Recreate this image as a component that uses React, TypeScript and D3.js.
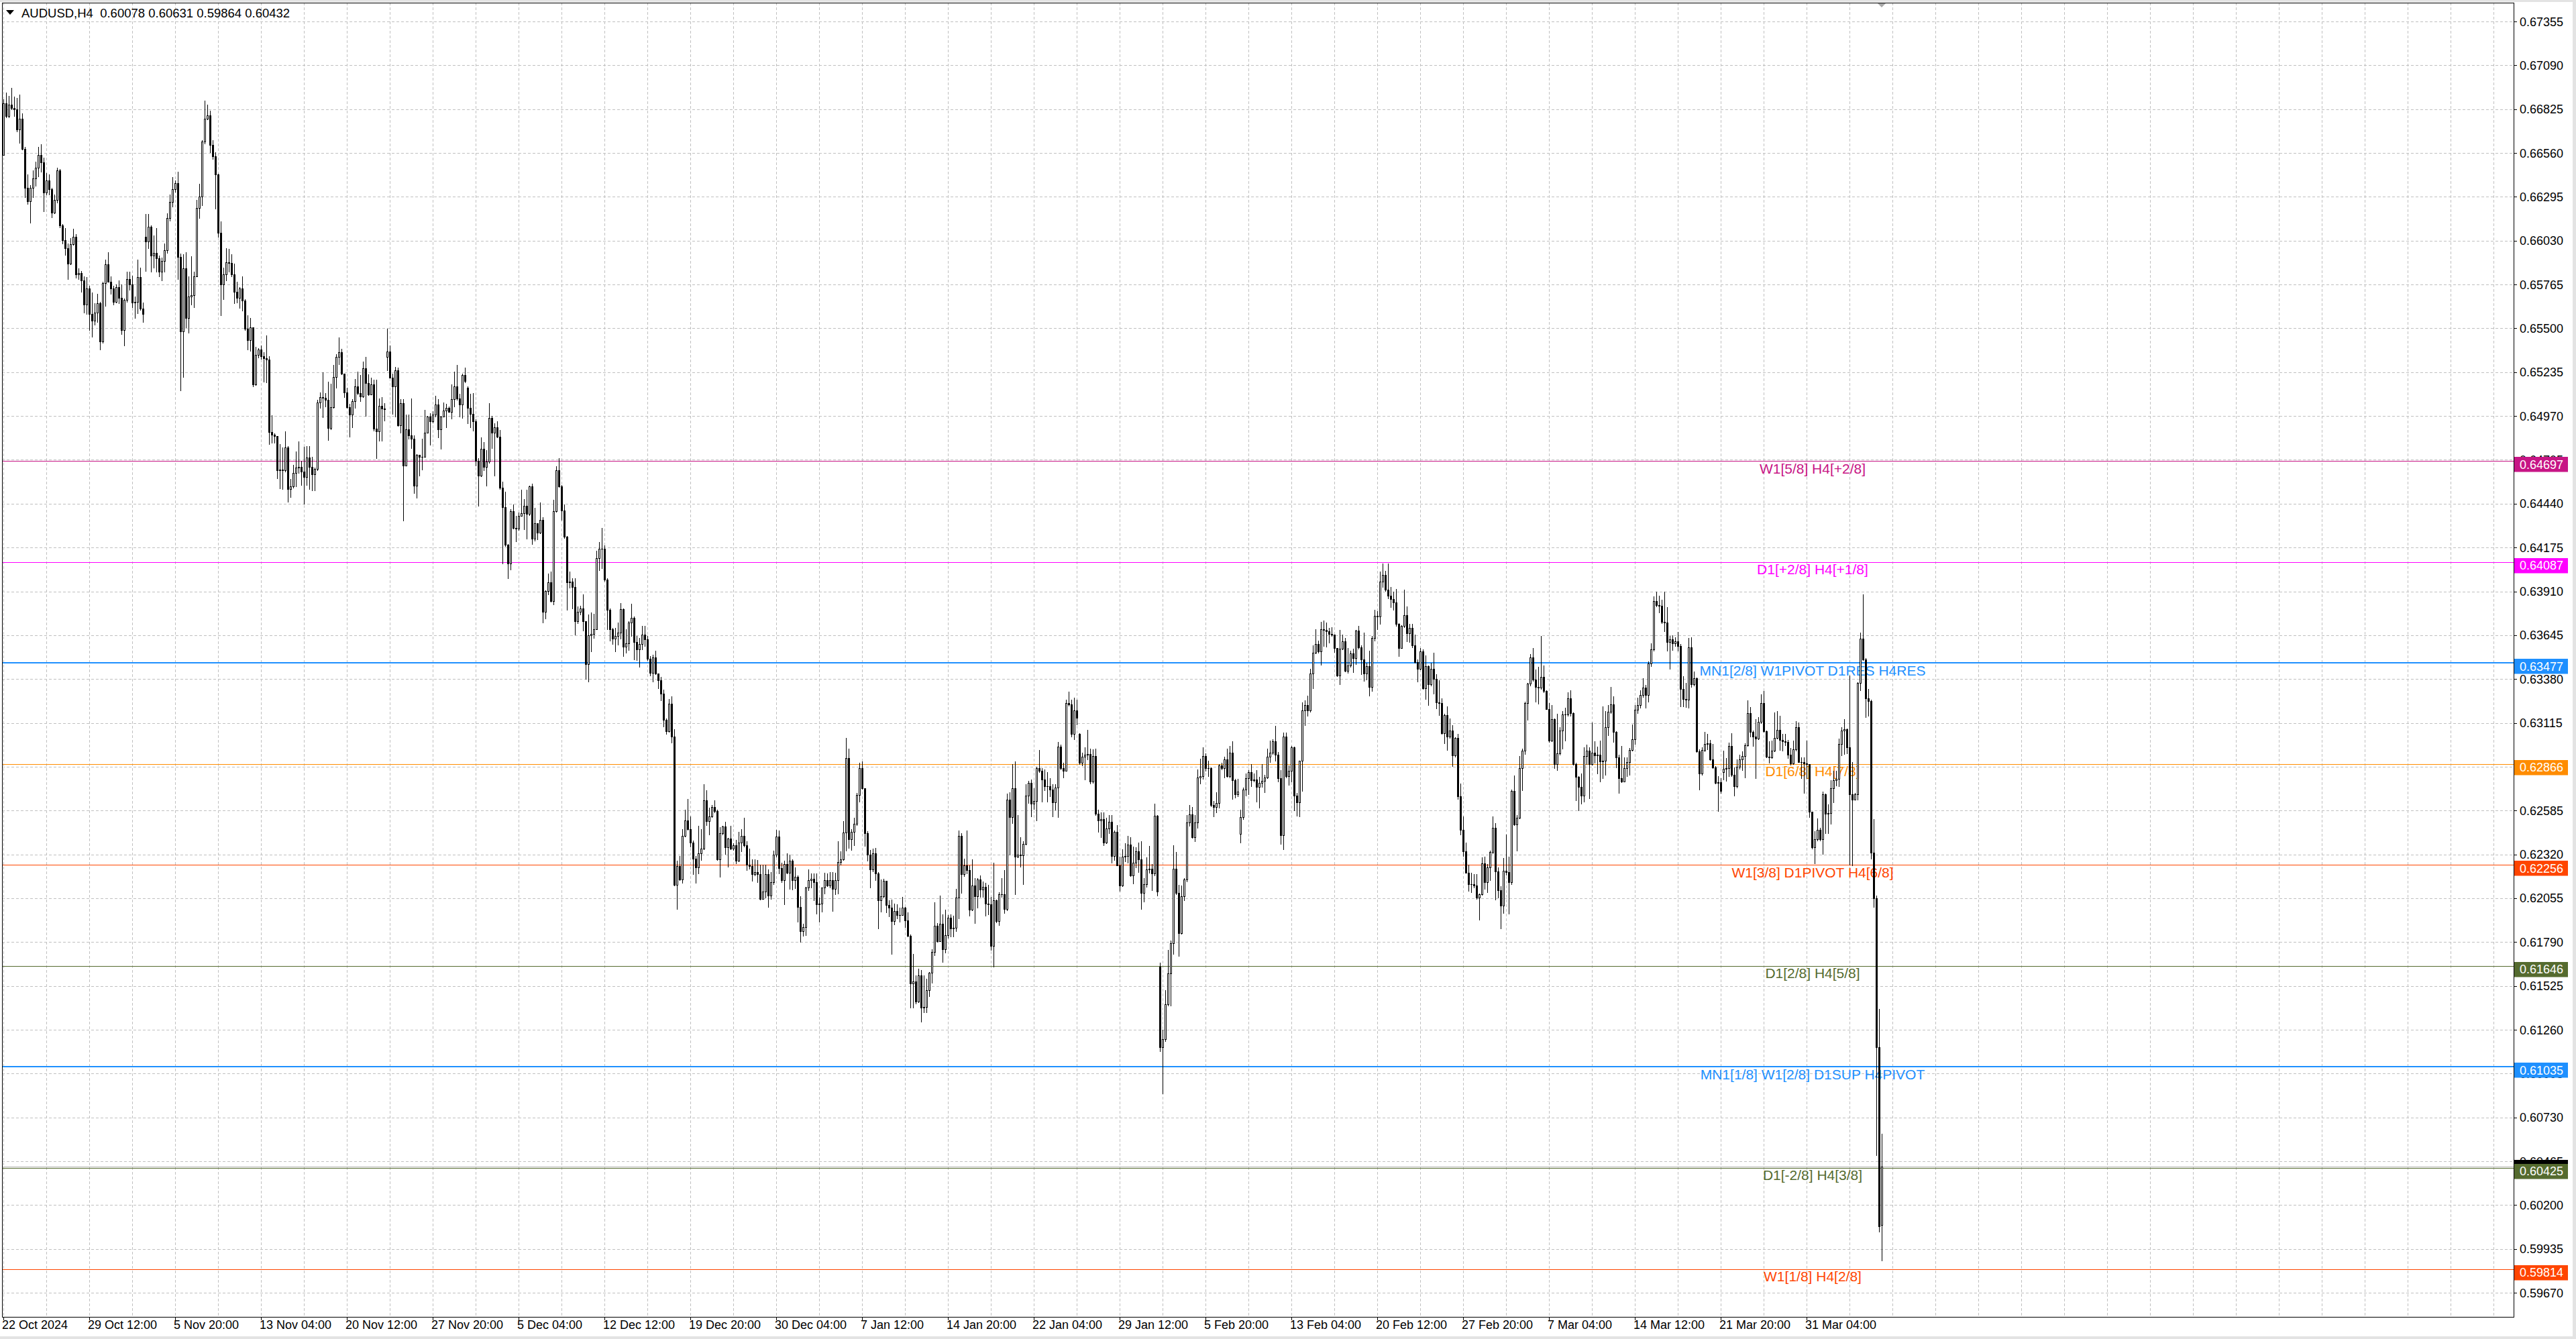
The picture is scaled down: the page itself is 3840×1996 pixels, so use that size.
import React from 'react';
import * as d3 from 'd3';

// AUDUSD H4 candles, prices in points (1e-5)
const symbolName = 'AUDUSD,H4';

const timeLabels = [
  '22 Oct 2024', '29 Oct 12:00', '5 Nov 20:00', '13 Nov 04:00', '20 Nov 12:00', '27 Nov 20:00',
  '5 Dec 04:00', '12 Dec 12:00', '19 Dec 20:00', '30 Dec 04:00', '7 Jan 12:00', '14 Jan 20:00',
  '22 Jan 04:00', '29 Jan 12:00', '5 Feb 20:00', '13 Feb 04:00', '20 Feb 12:00', '27 Feb 20:00',
  '7 Mar 04:00', '14 Mar 12:00', '21 Mar 20:00', '31 Mar 04:00',
];

const priceTicks = [
  '0.67355', '0.67090', '0.66825', '0.66560', '0.66295', '0.66030', '0.65765', '0.65500', '0.65235', '0.64970',
  '0.64705', '0.64440', '0.64175', '0.63910', '0.63645', '0.63380', '0.63115', '0.62850', '0.62585', '0.62320',
  '0.62055', '0.61790', '0.61525', '0.61260', '0.60995', '0.60730', '0.60465', '0.60200', '0.59935', '0.59670',
];

const levelPrices = [0.64697, 0.64087, 0.63477, 0.62866, 0.62256, 0.61646, 0.61035, 0.60425, 0.59814];
const levelTags = [
  'W1[5/8] H4[+2/8]', 'D1[+2/8] H4[+1/8]', 'MN1[2/8] W1PIVOT D1RES H4RES', 'D1[6/8] H4[7/8]',
  'W1[3/8] D1PIVOT H4[6/8]', 'D1[2/8] H4[5/8]', 'MN1[1/8] W1[2/8] D1SUP H4PIVOT', 'D1[-2/8] H4[3/8]',
  'W1[1/8] H4[2/8]',
];

const closes = [
  66862,66785,66851,66830,66825,66701,66766,66584,66349,66269,
  66349,66408,66472,66549,66504,66320,66392,66341,66201,66277,
  66453,66124,66031,65983,65892,66009,66055,65828,65836,65788,
  65643,65740,65587,65547,65595,65651,65419,65772,65887,65783,
  65740,65660,65748,65684,65491,65671,65796,65764,65655,65660,
  65809,65619,65587,66023,66116,65940,65956,65924,65844,65908,
  65972,66168,66264,66341,66376,65932,65483,65863,65563,65692,
  65700,65815,66229,66296,66629,66766,66786,66608,66541,66429,
  66076,65764,65828,65900,65895,65828,65719,65684,65743,65668,
  65499,65430,65507,65163,65339,65371,65331,65321,65312,64874,
  64858,64847,64642,64645,64642,64778,64530,64546,64626,64658,
  64661,64634,64602,64719,64661,64618,64650,65050,65084,65080,
  65066,64896,65024,65207,65326,65354,65228,65112,65024,64979,
  65060,65150,65108,65088,65259,65168,65102,65161,64893,64879,
  65033,65014,65010,65359,65203,65150,65248,64912,65046,64672,
  64891,64851,64833,64549,64735,64725,64725,64870,64965,64938,
  64977,65038,64889,64968,65003,65021,64996,65073,65147,65077,
  65038,65217,65182,65021,64982,64940,64700,64609,64773,64661,
  64693,64958,64868,64903,64843,64535,64421,64190,64079,64393,
  64295,64288,64368,64382,64428,64379,64544,64228,64320,64264,
  64344,63785,63911,63963,63851,64396,64644,64544,64400,64239,
  63963,63970,63935,63730,63785,63806,63730,63471,63646,63653,
  63683,64111,64169,64167,63981,63799,63683,63625,63639,63660,
  63804,63576,63597,63720,63751,63604,63560,63590,63650,63620,
  63501,63418,63511,63412,63371,63290,63132,63064,63231,63032,
  62135,62250,62169,62430,62527,62471,62390,62294,62243,62327,
  62356,62648,62523,62551,62607,62582,62290,62449,62489,62365,
  62415,62353,62376,62280,62390,62430,62376,62258,62250,62199,
  62213,62199,62051,62095,62199,62070,62154,62317,62427,62238,
  62165,62262,62209,62283,62165,62184,62003,61855,61882,62118,
  62165,62174,62154,62017,62022,62118,62165,62132,62165,62110,
  62165,62272,62291,62454,62902,62412,62457,62504,62678,62840,
  62719,62449,62317,62228,62327,62206,62041,62066,62159,62014,
  61997,61918,61977,61952,61955,61997,61923,61826,61540,61550,
  61432,61587,61392,61398,61498,61604,61731,61889,61796,61899,
  61746,61830,61938,61874,61878,62058,62431,62199,62255,62226,
  61985,62130,62065,62170,62107,62123,62022,62017,61766,62043,
  61918,62078,62081,61990,62652,62546,62720,62306,62319,62316,
  62383,62675,62752,62627,62644,62840,62824,62771,62731,62732,
  62712,62636,62725,62973,62840,62824,63236,63225,63048,63189,
  63145,62872,62909,62923,62927,62760,62915,62567,62524,62535,
  62391,62476,62519,62311,62455,62255,62130,62306,62311,62378,
  62194,62268,62338,62290,62086,62139,62231,62234,62203,62555,
  62094,61156,61204,61413,61600,61782,62235,62086,61846,62065,
  62167,62514,62562,62423,62514,62784,62792,62915,62840,62840,
  62620,62607,62631,62856,62840,62893,62792,62936,62768,62684,
  62699,62547,62712,62781,62819,62768,62773,62728,62752,62765,
  62784,62909,62936,63005,62922,62780,62438,63032,62792,62825,
  62968,62675,62633,62885,63192,63222,63192,63413,63538,63590,
  63548,63683,63677,63668,63653,63647,63568,63402,63563,63608,
  63428,63462,63533,63508,63672,63572,63500,63413,63458,63332,
  63628,63762,63758,63968,64010,63920,63882,63863,63842,63713,
  63568,63702,63767,63658,63688,63582,63482,63443,63548,63323,
  63458,63350,63440,63380,63238,63233,63053,63162,63032,63068,
  62918,63023,62672,62468,62338,62210,62138,62138,62132,62057,
  62078,62267,62153,62240,62333,62480,62218,62102,62012,62222,
  62213,62153,62702,62502,62543,62843,62948,63233,63353,63512,
  63377,63332,63328,63392,63308,63200,63008,63137,62867,62930,
  63068,63167,63167,63263,63173,62867,62788,62728,62675,62915,
  62948,62867,62933,62918,62924,62883,62887,63087,63184,63226,
  63059,62905,62782,62761,62841,62877,62952,63017,63194,63222,
  63282,63330,63282,63473,63561,63850,63827,63822,63725,63720,
  63603,63620,63595,63606,63578,63320,63260,63257,63571,63348,
  63383,62943,62810,62952,62989,62992,62894,62845,62751,62757,
  62705,62838,62841,62975,62803,62733,62849,62894,62915,62980,
  63176,63059,63033,63022,63120,63236,63064,62911,62908,62947,
  63026,63072,63012,63003,62998,62922,62869,62957,63087,62880,
  62877,62869,62866,62580,62363,62412,62468,62412,62684,62566,
  62570,62719,62768,62775,62989,63068,63075,62966,62684,62650,
  62682,63357,63623,63497,63264,63246,62332,62055,61156,60072,
  60432,
];

const highs = [
  66883,66926,66905,66953,66902,66894,66915,66798,66597,66432,
  66365,66453,66509,66597,66613,66530,66437,66429,66349,66309,
  66469,66461,66132,66108,66012,66044,66100,66071,65863,65847,
  65812,65809,65756,65716,65651,65708,65660,65780,65916,65959,
  65812,65756,65767,65788,65764,65680,65841,65844,65820,65692,
  65916,65868,65655,66192,66192,66124,66060,66108,65940,65927,
  66012,66197,66309,66413,66392,66445,65953,65948,65959,65812,
  65937,65844,66277,66373,66637,66878,66851,66814,66637,66565,
  66434,66148,65868,65985,65980,65948,65892,65780,65751,65812,
  65676,65579,65563,65507,65387,65379,65395,65355,65459,65331,
  64975,64866,64850,64799,64778,64879,64790,64590,64674,64754,
  64815,64698,64786,64789,64789,64722,64658,65066,65112,65234,
  65108,65178,65164,65280,65342,65443,65377,65228,65140,65042,
  65070,65192,65238,65217,65298,65326,65220,65203,65189,65189,
  65077,65084,65049,65499,65398,65228,65266,65261,65070,65070,
  64979,64979,65077,64851,64739,64735,64833,65007,64972,64986,
  65000,65094,65070,64972,65052,65042,65028,65161,65238,65280,
  65105,65228,65262,65147,65105,65108,64952,64714,64840,64812,
  64763,65046,64972,64924,64940,64884,64574,64512,64197,64407,
  64435,64365,64386,64526,64466,64526,64549,64560,64414,64323,
  64446,64358,63918,64019,64030,64463,64665,64714,64554,64435,
  64246,64030,63991,63991,63820,63823,63890,63723,63771,63781,
  63776,64155,64209,64292,64186,63988,63806,63688,63688,63723,
  63841,63806,63681,63730,63834,63760,63640,63630,63700,63700,
  63640,63518,63526,63551,63415,63393,63315,63142,63260,63275,
  63076,62280,62309,62471,62592,62656,62548,62405,62309,62494,
  62474,62744,62707,62604,62619,62648,62589,62483,62494,62516,
  62420,62494,62386,62409,62457,62471,62542,62398,62353,62291,
  62291,62287,62258,62258,62258,62228,62213,62342,62468,62464,
  62268,62283,62327,62317,62291,62243,62191,62066,61899,62125,
  62228,62206,62206,62206,62059,62120,62209,62206,62213,62213,
  62209,62398,62339,62523,63024,62958,62471,62542,62690,62872,
  62881,62719,62460,62346,62356,62361,62213,62169,62174,62154,
  62044,62047,62022,62017,61999,62061,62003,61970,61837,61719,
  61587,61628,61619,61587,61569,61609,61746,62029,61904,62073,
  61958,61985,61955,61958,61950,62110,62463,62447,62295,62463,
  62255,62290,62175,62175,62194,62158,62150,62134,62062,62271,
  62046,62091,62178,62226,62688,62696,62864,62883,62559,62423,
  62399,62744,62765,62771,62720,62848,62952,62840,62832,62816,
  62781,62744,62744,63000,62984,62872,63257,63305,63257,63268,
  63257,63053,62936,62968,63072,62960,62957,62960,62591,62575,
  62572,62543,62559,62559,62463,62495,62306,62351,62386,62431,
  62423,62367,62364,62391,62399,62178,62303,62370,62263,62627,
  62559,61665,61261,61501,61742,61798,62375,62335,62134,62130,
  62178,62559,62620,62607,62556,62835,62899,62968,62931,62888,
  62845,62643,62696,62867,62872,62912,62960,62976,63005,62776,
  62776,62591,62723,62808,62829,62867,62808,62829,62787,62864,
  62800,62960,63008,63016,63098,62938,62828,63058,63058,62858,
  62975,62970,62693,62888,63238,63252,63278,63443,63582,63680,
  63612,63725,63732,63722,63688,63695,63650,63568,63677,63647,
  63628,63568,63552,63563,63677,63702,63582,63660,63478,63552,
  63642,63800,63792,64028,64078,64032,64078,63935,63908,63923,
  63718,63707,63920,63818,63713,63713,63650,63500,63568,63560,
  63522,63462,63478,63538,63410,63372,63263,63170,63215,63140,
  63102,63028,63050,62750,62548,62390,62258,62210,62202,62202,
  62082,62303,62308,62262,62342,62548,62510,62240,62128,62300,
  62442,62308,62712,62795,62558,62915,62960,63245,63358,63530,
  63568,63437,63455,63642,63462,63312,63233,63222,63143,63170,
  63088,63188,63208,63298,63312,63178,62873,62792,62810,62968,
  62983,62968,63118,63002,62971,63008,63215,63187,63222,63334,
  63274,63064,62922,62975,62908,62908,62964,63106,63222,63268,
  63313,63383,63343,63487,63595,63878,63910,63885,63860,63910,
  63815,63641,63645,63634,63665,63592,63399,63357,63627,63634,
  63424,63390,62957,62966,63061,63047,63012,62989,62852,62793,
  62779,62947,62901,62994,63054,62845,62894,62922,62943,62992,
  63250,63212,63068,63138,63148,63288,63306,63068,63003,63006,
  63180,63187,63159,63047,63050,63012,62964,63006,63124,63117,
  62908,62908,63006,62831,62580,62461,62538,62482,62698,62687,
  62621,62768,62824,62824,63019,63087,63138,63082,63403,62880,
  62690,63362,63662,63892,63508,63320,63257,62533,62072,61386,
  60631,
];

const lows = [
  66546,66774,66777,66822,66782,66690,66621,66581,66293,66253,
  66140,66293,66360,66418,66445,66209,66309,66309,66172,66197,
  66261,66112,66012,65945,65796,65887,66004,65804,65799,65719,
  65595,65587,65491,65451,65523,65539,65371,65414,65636,65780,
  65708,65644,65655,65651,65467,65395,65660,65732,65627,65563,
  65591,65611,65539,65847,65983,65844,65868,65844,65812,65788,
  65844,65956,66152,66237,66325,65796,65123,65206,65507,65475,
  65644,65627,65812,66168,66245,66617,66761,66565,66525,66225,
  66052,65579,65676,65788,65844,65812,65651,65655,65623,65607,
  65491,65371,65363,65147,65158,65323,65315,65179,65174,64802,
  64810,64810,64594,64533,64530,64634,64450,64480,64537,64545,
  64626,64553,64440,64553,64530,64521,64521,64642,65021,64963,
  65028,64823,64889,65021,65140,65284,65220,65084,65020,64843,
  64903,65021,65102,65060,65084,64972,65098,65105,64882,64714,
  64819,64819,64944,65245,65200,64982,64968,64910,64870,64337,
  64672,64833,64777,64505,64477,64609,64647,64725,64868,64795,
  64931,64965,64840,64773,64972,64903,64993,64954,65028,65066,
  64968,64958,65172,64924,64903,64882,64672,64428,64605,64644,
  64549,64686,64777,64609,64840,64530,64079,64185,63991,64041,
  64288,64214,64281,64365,64284,64228,64372,64197,64218,64225,
  64260,63723,63744,63890,63848,63832,64390,64539,64340,64232,
  63799,63932,63806,63650,63716,63771,63674,63380,63366,63548,
  63628,63681,64037,64051,63974,63681,63611,63590,63548,63586,
  63625,63520,63538,63555,63642,63499,63496,63452,63560,63580,
  63496,63403,63363,63408,63324,63250,63091,63049,63061,62995,
  62130,61992,62165,62150,62427,62468,62368,62199,62150,62206,
  62287,62350,62498,62442,62545,62575,62287,62184,62442,62324,
  62247,62350,62346,62265,62277,62339,62368,62224,62235,62162,
  62194,62154,62047,62051,62059,62003,62051,62140,62306,62206,
  62154,62017,62206,62110,62106,62115,61914,61790,61826,61830,
  62103,62118,62044,61963,61914,61973,62085,62129,62118,61977,
  62081,62085,62258,62287,62342,62361,62346,62376,62498,62637,
  62715,62371,62280,62120,62218,62165,61874,61973,62059,61970,
  61944,61719,61896,61933,61911,61955,61882,61823,61395,61395,
  61417,61427,61309,61365,61365,61461,61542,61712,61790,61830,
  61668,61727,61815,61823,61822,61857,61934,62086,62190,62203,
  61950,61982,61905,61998,62062,62062,61950,61958,61742,61642,
  61910,61894,62062,61966,61982,62319,62511,62078,62303,62247,
  62142,62380,62631,62551,62595,62527,62816,62639,62707,62639,
  62672,62551,62591,62546,62835,62784,62824,63217,63032,63016,
  63105,62864,62856,62771,62896,62749,62752,62559,62455,62423,
  62375,62386,62447,62268,62287,62252,62098,62126,62279,62268,
  62187,62146,62242,62215,61990,62033,62123,62210,62102,62194,
  62070,61132,60876,61193,61405,61405,61718,62078,61706,61841,
  62043,62158,62492,62418,62399,62479,62748,62776,62824,62792,
  62611,62551,62575,62604,62835,62784,62787,62784,62656,62664,
  62672,62391,62535,62675,62684,62733,62760,62640,62604,62728,
  62696,62781,62877,62928,62885,62762,62382,62352,62783,62742,
  62762,62588,62555,62548,62702,63102,63158,63182,63323,63533,
  63538,63467,63578,63575,63598,63642,63545,63398,63347,63560,
  63425,63418,63455,63422,63470,63563,63410,63368,63377,63278,
  63308,63612,63683,63713,63935,63912,63868,63815,63797,63702,
  63518,63608,63695,63608,63605,63572,63478,63365,63437,63320,
  63260,63222,63342,63293,63203,63162,63050,62993,62952,63023,
  62855,62912,62657,62442,62312,62207,62098,62093,62120,62052,
  61925,62075,62112,62090,62165,62327,62045,62060,61872,61967,
  62195,61962,62142,62498,62342,62537,62708,62927,63132,63342,
  63368,63245,63230,63320,63298,63197,62998,63005,62840,62828,
  62922,62960,63008,63158,63158,62860,62645,62588,62627,62638,
  62867,62660,62862,62873,62810,62761,62779,62803,63040,63173,
  63000,62845,62691,62757,62768,62793,62799,62947,62989,63173,
  63208,63271,63208,63243,63459,63553,63818,63781,63718,63669,
  63553,63441,63557,63581,63553,63215,63215,63212,63208,63334,
  63341,62938,62712,62803,62943,62957,62891,62840,62747,62584,
  62691,62771,62765,62793,62793,62677,62723,62838,62831,62785,
  62975,63033,62975,62779,63017,63114,63061,62908,62873,62901,
  62943,63019,62952,62947,62980,62901,62863,62866,62947,62877,
  62782,62691,62782,62545,62356,62265,62405,62405,62321,62450,
  62450,62506,62635,62737,62733,62919,62925,62929,62258,62252,
  62650,62650,63313,63494,63148,63159,62296,62004,60500,60038,
  59864,
];

// bars whose open is not the previous close (weekend gaps, first bar)
const gapOpens: [number, number][] = [
  [0, 66549], [53, 66052], [143, 65326], [173, 65140], [401, 63048],
  [431, 61642], [461, 62444], [641, 62817], [700, 60078],
];

const FONT = "'Liberation Sans', Arial, sans-serif";
const LEVEL_COLORS = ['#C71585', '#FF00FF', '#1E90FF', '#FF8C00', '#FF4500', '#556B2F', '#1E90FF', '#556B2F', '#FF4500'];
const LEVEL_WIDTHS = [1, 1, 2, 1, 1, 1, 2, 1, 1];
const GRID = '#C0C0C0';

const half = (v: number) => Math.round(v) + 0.5;

export default function App() {
  React.useEffect(() => {
    document.body.style.margin = '0';
    document.body.style.overflow = 'hidden';
  }, []);

  const width = 3840;
  const height = 1996;
  const frame = { left: 3, top: 4, right: 3747, bottom: 1963 };

  const bars = React.useMemo(() => {
    const gaps = new Map(gapOpens);
    return closes.map((c, i) => {
      const open = gaps.get(i) ?? closes[i - 1];
      const hi = Math.max(highs[i], open, c);
      const lo = Math.min(lows[i], open, c);
      return { open: open / 1e5, high: hi / 1e5, low: lo / 1e5, close: c / 1e5 };
    });
  }, []);

  const n = bars.length;
  const x = d3.scaleLinear().domain([0, n - 1]).range([5, 5 + 4 * (n - 1)]);
  const tickValues = priceTicks.map(Number);
  const y = d3.scaleLinear()
    .domain([tickValues[tickValues.length - 1], tickValues[0]])
    .range([1927.1, 32]);

  const fmt = d3.format('.5f');
  const last = bars[n - 1];
  const header = `${symbolName}  ${fmt(last.open)} ${fmt(last.high)} ${fmt(last.low)} ${fmt(last.close)}`;

  const vGrid = d3.range(0, 80).map(k => x(k * 16)).filter(v => v > frame.left + 1 && v < frame.right);
  const bidY = y(last.close);

  return (
    <div style={{ position: 'absolute', left: 0, top: 0 }}>
      <svg width={width} height={height} style={{ display: 'block', fontFamily: FONT }}>
        <rect x={0} y={0} width={width} height={height} fill="#fff" />
        {/* window edges */}
        <rect x={0} y={0} width={width} height={3} fill="#E3E3E3" />
        <rect x={width - 5} y={0} width={5} height={height} fill="#E3E3E3" />
        <rect x={0} y={height - 4} width={width} height={4} fill="#E3E3E3" />

        {/* grid */}
        <g stroke={GRID} strokeDasharray="4,3" shapeRendering="crispEdges">
          {vGrid.map((v, i) => (
            <line key={'v' + i} x1={half(v)} x2={half(v)} y1={frame.top} y2={frame.bottom} />
          ))}
          {tickValues.map((t, i) => (
            <line key={'h' + i} x1={frame.left} x2={frame.right} y1={half(y(t))} y2={half(y(t))} />
          ))}
        </g>

        {/* levels */}
        <g shapeRendering="crispEdges">
          {levelPrices.map((p, i) => {
            const ly = LEVEL_WIDTHS[i] === 2 ? Math.round(y(p)) : half(y(p));
            return (
              <line key={i} x1={frame.left} x2={frame.right} y1={ly} y2={ly}
                stroke={LEVEL_COLORS[i]} strokeWidth={LEVEL_WIDTHS[i]} />
            );
          })}
        </g>
        {levelPrices.map((p, i) => (
          <text key={i} x={2702} y={y(p) + 18.5} textAnchor="middle" fontSize={21} fill={LEVEL_COLORS[i]}>
            {levelTags[i]}
          </text>
        ))}

        {/* bid line */}
        <line x1={frame.left} x2={frame.right} y1={half(bidY)} y2={half(bidY)} stroke="#B4B4B4" shapeRendering="crispEdges" />

        {/* candles */}
        <g shapeRendering="crispEdges">
          {bars.map((b, i) => {
            const cx = Math.round(x(i));
            const yh = Math.round(y(b.high));
            const yl = Math.round(y(b.low));
            const yo = Math.round(y(b.open));
            const yc = Math.round(y(b.close));
            const top = Math.min(yo, yc);
            const bot = Math.max(yo, yc);
            const bull = b.close > b.open;
            let body;
            if (bot - top < 1) {
              body = <line x1={cx - 1} x2={cx + 2} y1={top + 0.5} y2={top + 0.5} stroke="#000" />;
            } else if (bull) {
              body = <rect x={cx - 0.5} y={top + 0.5} width={2} height={bot - top} fill="#fff" stroke="#000" />;
            } else {
              body = <rect x={cx - 1} y={top} width={3} height={bot - top + 1} fill="#000" />;
            }
            return (
              <g key={i}>
                <line x1={cx + 0.5} x2={cx + 0.5} y1={yh} y2={yl + 1} stroke="#000" />
                {body}
              </g>
            );
          })}
        </g>

        {/* chart shift marker */}
        <path d={`M${x(n - 1)},${frame.top + 1} l-6,0 l6,6 l6,-6 z`} fill="#A8A8A8" />

        {/* frame */}
        <rect x={frame.left + 0.5} y={frame.top + 0.5} width={frame.right - frame.left} height={frame.bottom - frame.top}
          fill="none" stroke="#000" shapeRendering="crispEdges" />

        {/* price axis */}
        <g fontSize={18} fill="#000">
          {tickValues.map((t, i) => (
            <g key={i}>
              <line x1={frame.right} x2={frame.right + 5} y1={half(y(t))} y2={half(y(t))} stroke="#000" shapeRendering="crispEdges" />
              <text x={3756} y={y(t) + 6.5}>{priceTicks[i]}</text>
            </g>
          ))}
        </g>

        {/* bid marker, its figure sits under the level label */}
        <rect x={3748} y={Math.round(bidY) - 10} width={80} height={22} fill="#000" />

        {/* level price labels */}
        {levelPrices.map((p, i) => (
          <g key={i}>
            <rect x={3748} y={Math.round(y(p)) - 6} width={80} height={22.5} fill={LEVEL_COLORS[i]} />
            <text x={3756} y={y(p) + 11.5} fontSize={18} fill="#fff">{fmt(p)}</text>
          </g>
        ))}

        {/* time axis */}
        <g fontSize={18} fill="#000">
          {timeLabels.map((t, i) => {
            const tx = x(i * 32);
            return (
              <g key={i}>
                <line x1={half(tx)} x2={half(tx)} y1={frame.bottom} y2={frame.bottom + 5} stroke="#000" shapeRendering="crispEdges" />
                <text x={tx - 2} y={1981}>{t}</text>
              </g>
            );
          })}
        </g>

        {/* header */}
        <path d="M9,15 L21,15 L15,22 Z" fill="#000" />
        <text x={32} y={26} fontSize={18.5} fill="#000" style={{ whiteSpace: 'pre' }}>{header}</text>
      </svg>
    </div>
  );
}
